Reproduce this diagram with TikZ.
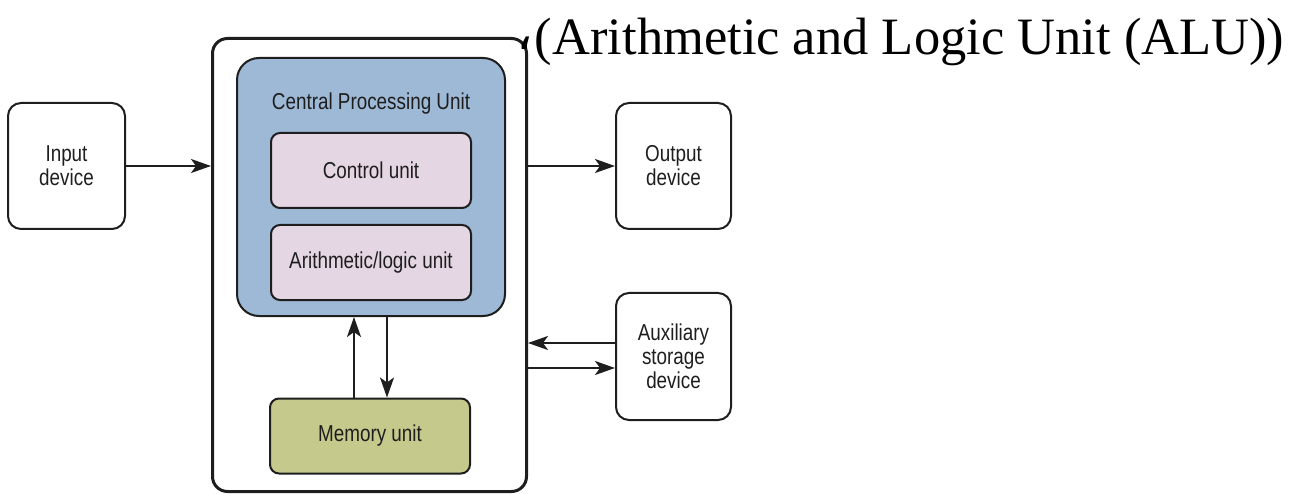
\documentclass[tikz,border=0pt]{standalone}
\usepackage{fontspec}
\usepackage{xcolor}
\usepackage{tikz}
\usetikzlibrary{positioning,arrows.meta}

\setmainfont{Liberation Serif}
\newfontfamily\boxfont[FakeStretch=0.82]{Liberation Sans}
\newfontfamily\arabicfont[Script=Arabic]{DejaVu Sans}

\definecolor{cpublue}{RGB}{158,185,214}
\definecolor{unitpink}{RGB}{229,214,228}
\definecolor{memgreen}{RGB}{197,201,139}
\definecolor{edgegray}{RGB}{30,30,30}

\begin{document}
\begin{tikzpicture}[x=1pt,y=-1pt,>={Stealth[length=20pt,width=14pt,inset=5pt]},line width=2pt,
    box/.style={draw=edgegray,rounded corners=13pt,align=center,text=edgegray,
        font=\boxfont\fontsize{23}{24}\selectfont,inner sep=0pt},
    unit/.style={box,rounded corners=9pt,minimum width=200pt,minimum height=75pt}]

    \useasboundingbox (0,0) rectangle (1306,494);

    % The boxes
    \node [box,line width=3pt,minimum width=314pt,minimum height=453pt,rounded corners=15pt] at (369.5,265) (computer) {};
    \node [box,fill=cpublue,minimum width=268pt,minimum height=258pt,rounded corners=22pt] at (371,187) (cpu) {};
    \node [box,draw=none] at (371,104) (cpulabel) {Central Processing Unit};
    \node [unit,fill=unitpink] at (371,170.5) (control) {Control unit};
    \node [unit,fill=unitpink] at (371,262.5) (alu) {Arithmetic/logic unit};
    \node [unit,fill=memgreen] at (370,436) (memory) {Memory unit};

    \node [box,minimum width=117pt,minimum height=126pt] at (66.5,166) (input) {Input\\device};
    \node [box,minimum width=115pt,minimum height=126pt] at (673.5,166) (output) {Output\\device};
    \node [box,minimum width=115pt,minimum height=127pt] at (673.5,356.5) (aux) {Auxiliary\\storage\\device};

    % Title
    \node [anchor=base west,inner sep=0pt,font=\fontsize{52.5}{56}\selectfont] at (515,55) (title)
        {\raisebox{5pt}{\arabicfont ،}\hspace{2pt}(Arithmetic and Logic Unit (ALU))};

    % Connections
    \draw[->,edgegray] (input.east) -- (computer.west |- input.east);
    \draw[->,edgegray] (computer.east |- output.west) -- (output.west);
    \draw[->,edgegray] ([yshift=13.5pt]aux.west) -- ([yshift=13.5pt]aux.west -| computer.east);
    \draw[->,edgegray] ([yshift=-11.5pt]aux.west -| computer.east) -- ([yshift=-11.5pt]aux.west);
    \draw[->,edgegray] ([xshift=-16pt]memory.north) -- ([xshift=-16pt]memory.north |- cpu.south);
    \draw[->,edgegray] ([xshift=17pt]memory.north |- cpu.south) -- ([xshift=17pt]memory.north);
\end{tikzpicture}
\end{document}
